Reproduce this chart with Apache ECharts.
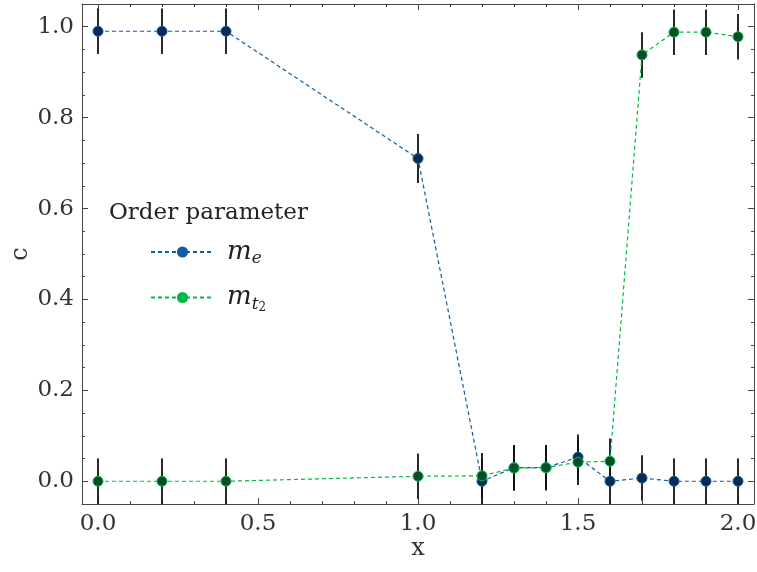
<!DOCTYPE html>
<html>
<head>
<meta charset="utf-8">
<script src="https://cdn.jsdelivr.net/npm/echarts@6/dist/echarts.min.js"></script>
<style>html,body{margin:0;padding:0;background:#fff}#c{width:757px;height:572px}</style>
</head>
<body>
<div id="c"></div>
<script>
const xValues = [0, 0.2, 0.4, 1.0, 1.2, 1.3, 1.4, 1.5, 1.6, 1.7, 1.8, 1.9, 2.0];
const meValues = [0.99, 0.99, 0.99, 0.71, 0.0, 0.03, 0.03, 0.053, 0.0, 0.007, 0.0, 0.0, 0.0];
const mt2Values = [0.0, 0.0, 0.0, 0.011, 0.012, 0.029, 0.03, 0.042, 0.044, 0.938, 0.988, 0.988, 0.978];
const meErr = [0.05, 0.05, 0.05, 0.054, 0.05, 0.05, 0.05, 0.05, 0.05, 0.05, 0.05, 0.05, 0.05];
const mt2Err = [0.05, 0.05, 0.05, 0.05, 0.05, 0.05, 0.05, 0.05, 0.05, 0.05, 0.05, 0.05, 0.05];
const xMajor = [0, 0.5, 1.0, 1.5, 2.0];
const xMinor = [0.1, 0.2, 0.3, 0.4, 0.6, 0.7, 0.8, 0.9, 1.1, 1.2, 1.3, 1.4, 1.6, 1.7, 1.8, 1.9];
const yMajor = [0, 0.2, 0.4, 0.6, 0.8, 1.0];
const yMinor = [-0.05, 0.05, 0.1, 0.15, 0.25, 0.3, 0.35, 0.45, 0.5, 0.55, 0.65, 0.7, 0.75, 0.85, 0.9, 0.95, 1.05];
const legendTitle = 'Order parameter';
const seriesNames = ['m_e', 'm_t2'];

const FONT = 'DejaVu Serif';
const AX = '#444';
const xMin = -0.05, xMax = 2.05, yMin = -0.05, yMax = 1.05;

function mkX(pos, values, len, labels, line) {
  return {
    type: 'value', position: pos, min: xMin, max: xMax,
    axisLine: { show: line, onZero: false, lineStyle: { color: AX, width: 1 } },
    splitLine: { show: false },
    axisTick: { show: true, inside: true, length: len, customValues: values, lineStyle: { color: AX, width: 1 } },
    axisLabel: labels ? { show: true, customValues: values, fontFamily: FONT, fontSize: 23, color: '#333', margin: 9,
      formatter: v => v.toFixed(1) } : { show: false },
    name: labels ? 'x' : '', nameLocation: 'middle', nameGap: 33, nameMoveOverlap: false,
    nameTextStyle: { fontFamily: FONT, fontSize: 24, color: '#333' }
  };
}
function mkY(pos, values, len, labels, line) {
  return {
    type: 'value', position: pos, min: yMin, max: yMax,
    axisLine: { show: line, onZero: false, lineStyle: { color: AX, width: 1 } },
    splitLine: { show: false },
    axisTick: { show: true, inside: true, length: len, customValues: values, lineStyle: { color: AX, width: 1 } },
    axisLabel: labels ? { show: true, customValues: values, fontFamily: FONT, fontSize: 23, color: '#333', margin: 8,
      formatter: v => v.toFixed(1) } : { show: false },
    name: labels ? 'c' : '', nameLocation: 'middle', nameGap: 49, nameMoveOverlap: false,
    nameTextStyle: { fontFamily: FONT, fontSize: 24, color: '#333' }
  };
}

function errSeries(vals, errs, name) {
  return {
    type: 'custom', name: name + '_err', xAxisIndex: 0, yAxisIndex: 0, z: 2, silent: true,
    data: xValues.map((x, i) => [x, vals[i], errs[i]]),
    renderItem: (params, api) => {
      const x = api.value(0), y = api.value(1), e = api.value(2);
      const p1 = api.coord([x, y - e]);
      const p2 = api.coord([x, y + e]);
      return { type: 'line', shape: { x1: p1[0], y1: p1[1], x2: p2[0], y2: p2[1] },
        style: { stroke: '#111', lineWidth: 1.8 } };
    }
  };
}

const chart = echarts.init(document.getElementById('c'));
chart.setOption({
  animation: false,
  backgroundColor: '#fff',
  grid: { left: 82, right: 3, top: 4, bottom: 68, containLabel: false, outerBoundsMode: 'none' },
  title: { text: legendTitle, left: 104, top: 197,
    textStyle: { fontFamily: FONT, fontWeight: 'normal', fontSize: 23, color: '#222' } },
  legend: {
    orient: 'vertical', left: 145, top: 234, itemGap: 17, itemWidth: 63, itemHeight: 14,
    data: [
      { name: seriesNames[0], itemStyle: { color: '#0C5DA5', borderWidth: 0 } },
      { name: seriesNames[1], itemStyle: { color: '#00B945', borderWidth: 0 } }
    ],
    formatter: n => n === 'm_e' ? '{m|m}{s|e}' : '{m|m}{s|t}{ss|2}',
    textStyle: {
      padding: [0, 0, 0, 8],
      rich: {
        m: { fontFamily: FONT, fontStyle: 'italic', fontSize: 26, color: '#222' },
        s: { fontFamily: FONT, fontStyle: 'italic', fontSize: 17, color: '#222', verticalAlign: 'bottom', padding: [14, 0, 0, 0] },
        ss: { fontFamily: FONT, fontSize: 12, color: '#222', verticalAlign: 'bottom', padding: [20, 0, 0, 0] }
      }
    }
  },
  xAxis: [
    mkX('bottom', xMajor, 6, true, true),
    mkX('bottom', xMinor, 3, false, false),
    mkX('top', xMajor, 6, false, true),
    mkX('top', xMinor, 3, false, false)
  ],
  yAxis: [
    mkY('left', yMajor, 6, true, true),
    mkY('left', yMinor, 3, false, false),
    mkY('right', yMajor, 6, false, true),
    mkY('right', yMinor, 3, false, false)
  ],
  series: [
    errSeries(meValues, meErr, 'm_e'),
    errSeries(mt2Values, mt2Err, 'm_t2'),
    {
      type: 'line', name: seriesNames[0], xAxisIndex: 0, yAxisIndex: 0, z: 3,
      data: xValues.map((x, i) => [x, meValues[i]]),
      symbol: 'circle', symbolSize: 10,
      lineStyle: { color: '#0C5DA5', width: 1.2, type: [4, 3] },
      itemStyle: { color: '#0b2a52', borderColor: '#0C5DA5', borderWidth: 1 }
    },
    {
      type: 'line', name: seriesNames[1], xAxisIndex: 0, yAxisIndex: 0, z: 4,
      data: xValues.map((x, i) => [x, mt2Values[i]]),
      symbol: 'circle', symbolSize: 10,
      lineStyle: { color: '#00B945', width: 1.2, type: [4, 3] },
      itemStyle: { color: '#0b4d24', borderColor: '#00B945', borderWidth: 1 }
    }
  ]
});
</script>
</body>
</html>
